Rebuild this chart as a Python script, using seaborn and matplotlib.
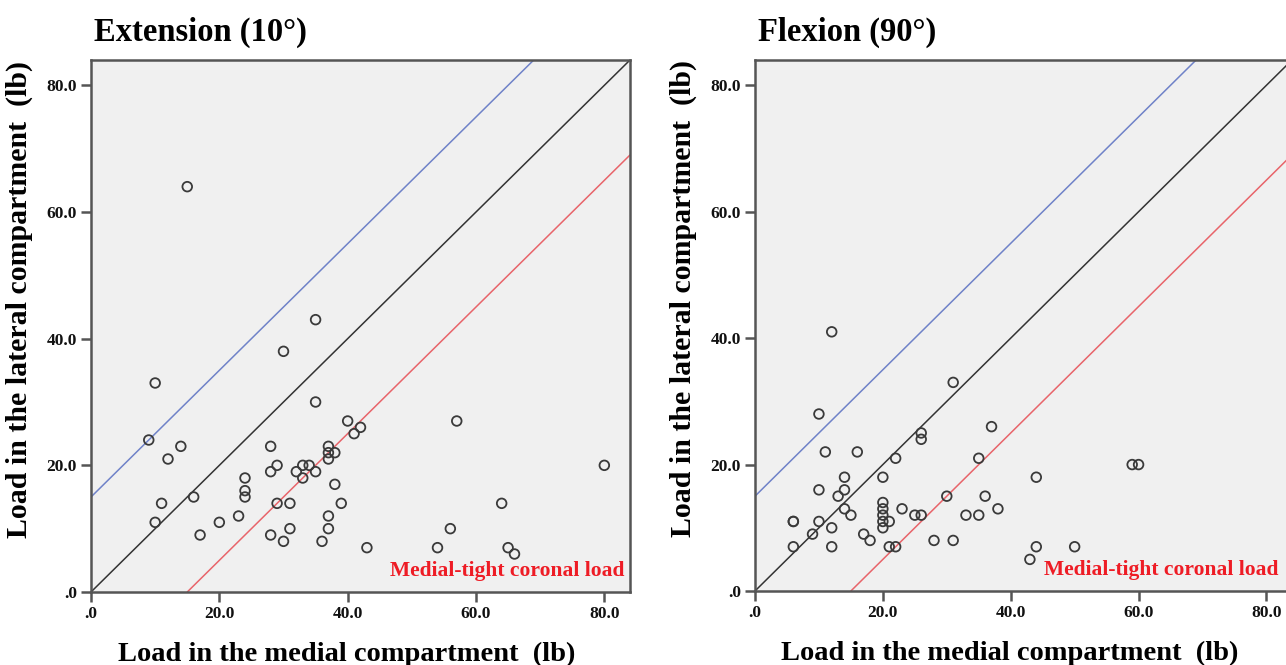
import numpy as np
import pandas as pd
import seaborn as sns
import matplotlib.pyplot as plt
from matplotlib.ticker import FuncFormatter, MultipleLocator

# Extension (10 deg) : medial vs lateral load (lb)
ext_medial = [15, 10, 9, 14, 12, 16, 11, 10, 17, 20, 23, 24, 24, 24, 28, 28, 29, 30, 28, 29,
              30, 31, 31, 32, 33, 33, 34, 35, 35, 35, 36, 37, 37, 38, 37, 37, 37, 38, 39, 40,
              41, 42, 43, 54, 56, 57, 64, 65, 66, 80]
ext_lateral = [64, 33, 24, 23, 21, 15, 14, 11, 9, 11, 12, 18, 16, 15, 23, 19, 20, 38, 9, 14,
               8, 14, 10, 19, 20, 18, 20, 19, 30, 43, 8, 23, 22, 22, 21, 12, 10, 17, 14, 27,
               25, 26, 7, 7, 10, 27, 14, 7, 6, 20]

# Flexion (90 deg)
flex_medial = [12, 10, 11, 16, 22, 26, 26, 31, 10, 14, 14, 13, 14, 15, 20, 20, 20, 20, 20, 20,
               21, 23, 25, 26, 6, 6, 6, 9, 10, 12, 12, 17, 18, 21, 22, 28, 31, 30, 33, 35,
               35, 37, 36, 38, 44, 44, 43, 50, 59, 60]
flex_lateral = [41, 28, 22, 22, 21, 25, 24, 33, 16, 18, 16, 15, 13, 12, 18, 14, 13, 12, 11, 10,
                11, 13, 12, 12, 11, 11, 7, 9, 11, 10, 7, 9, 8, 7, 7, 8, 8, 15, 12, 21,
                12, 26, 15, 13, 18, 7, 5, 7, 20, 20]

panel_titles = ["Extension (10°)", "Flexion (90°)"]
band_offset = 15  # +/- lb band around the line of equal load
note_text = "Medial-tight coronal load"

df = pd.concat([
    pd.DataFrame({"medial": ext_medial, "lateral": ext_lateral, "pos": panel_titles[0]}),
    pd.DataFrame({"medial": flex_medial, "lateral": flex_lateral, "pos": panel_titles[1]}),
])

sns.set_style("white")
plt.rcParams["font.family"] = ["Liberation Serif", "DejaVu Serif"]
plt.rcParams["text.color"] = "black"
plt.rcParams["axes.labelcolor"] = "black"
plt.rcParams["xtick.color"] = "black"
plt.rcParams["ytick.color"] = "black"

fig = plt.figure(figsize=(12.86, 6.65), dpi=100)
ax_rects = [[91 / 1286, 73 / 665, 539 / 1286, 532 / 665],
            [755 / 1286, 74 / 665, 537 / 1286, 531 / 665]]

fmt = FuncFormatter(lambda v, p: ".0" if v == 0 else f"{v:.1f}")

for rect, title in zip(ax_rects, panel_titles):
    ax = fig.add_axes(rect)
    ax.set_facecolor("#f0f0f0")
    sub = df[df["pos"] == title]
    ax.axline((0, 0), slope=1, color="#333333", lw=1.1, zorder=1)
    ax.axline((0, band_offset), slope=1, color="#6f82c8", lw=1.1, zorder=1)
    ax.axline((band_offset, 0), slope=1, color="#e8646a", lw=1.1, zorder=1)
    sns.scatterplot(data=sub, x="medial", y="lateral", ax=ax, s=48,
                    facecolor="none", edgecolor="#3a3a3a", linewidth=1.3, zorder=3)
    ax.set_xlim(0, 84)
    ax.set_ylim(0, 84)
    ax.xaxis.set_major_locator(MultipleLocator(20))
    ax.yaxis.set_major_locator(MultipleLocator(20))
    ax.xaxis.set_major_formatter(fmt)
    ax.yaxis.set_major_formatter(fmt)
    ax.tick_params(direction="out", length=7, width=1.8, color="#555555",
                   labelcolor="#111111", labelsize=12.5, pad=3, bottom=True, left=True)
    for lab in ax.get_xticklabels() + ax.get_yticklabels():
        lab.set_fontweight("semibold")
    for s in ax.spines.values():
        s.set_color("#555555")
        s.set_linewidth(1.8)
    ax.set_xlabel("Load in the medial compartment  (lb)", fontsize=20.5,
                  fontweight="bold")
    ax.set_ylabel("Load in the lateral compartment  (lb)", fontsize=21.5,
                  fontweight="bold")
    ax.xaxis.set_label_coords(0.475, -0.093)
    ax.yaxis.set_label_coords(-0.108, 0.55)
    ax.set_title(title, fontsize=23.5, fontweight="bold", loc="left", pad=14, x=0.005)
    ax.text(0.99 if title == panel_titles[0] else 0.975, 0.04, note_text,
            transform=ax.transAxes, ha="right", va="center",
            color="#ee1c25", fontsize=15.5, fontweight="bold")

fig.savefig("out.png", dpi=100)
